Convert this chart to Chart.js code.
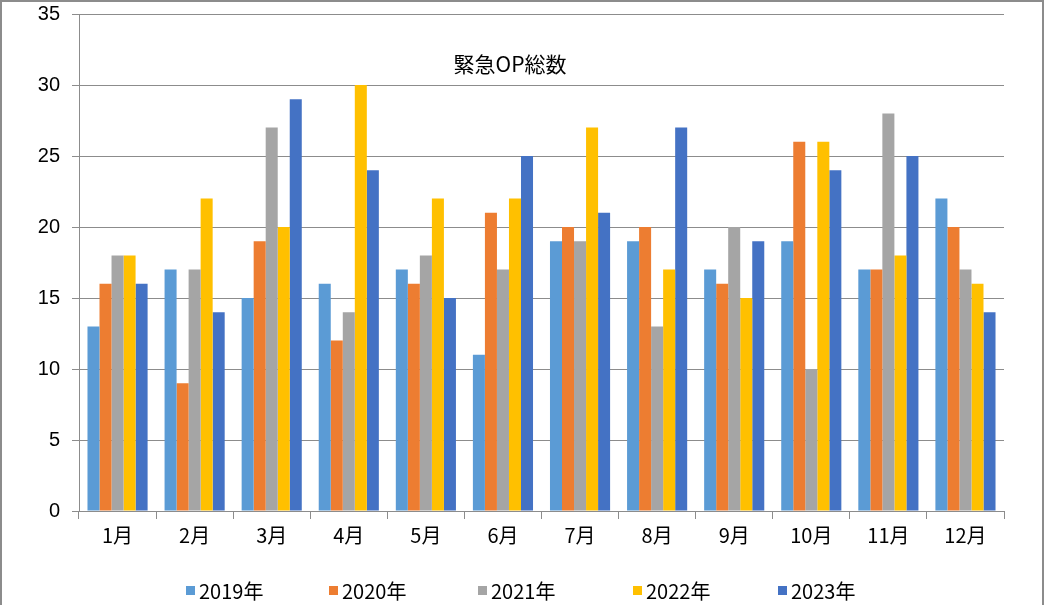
<!DOCTYPE html>
<html>
<head>
<meta charset="utf-8">
<script src="https://cdn.jsdelivr.net/npm/chart.js@4/dist/chart.umd.min.js"></script>
<style>
  html, body { margin: 0; padding: 0; background: #fff; }
  #wrap { width: 1047px; height: 605px; position: relative; }
</style>
</head>
<body>
<div id="wrap"><canvas id="c" width="1047" height="605"></canvas></div>
<script>
const categories = ['1月','2月','3月','4月','5月','6月','7月','8月','9月','10月','11月','12月'];
const seriesNames = ['2019年','2020年','2021年','2022年','2023年'];
const v2019 = [13,17,15,16,17,11,19,19,17,19,17,22];
const v2020 = [16, 9,19,12,16,21,20,20,16,26,17,20];
const v2021 = [18,17,27,14,18,17,19,13,20,10,28,17];
const v2022 = [18,22,20,30,22,22,27,17,15,26,18,16];
const v2023 = [16,14,29,24,15,25,21,27,19,24,25,14];
const yTicks = [0,5,10,15,20,25,30,35];
const chartTitle = '緊急OP総数';

const colors = ['#5B9BD5','#ED7D31','#A5A5A5','#FFC000','#4472C4'];
const seriesValues = [v2019, v2020, v2021, v2022, v2023];

const GOTHIC = '"Noto Sans CJK JP", "Liberation Sans", sans-serif';

const decorPlugin = {
  id: 'decor',
  afterDraw(chart) {
    const ctx = chart.ctx;
    ctx.save();
    // outer border
    ctx.strokeStyle = '#8c8c8c';
    ctx.lineWidth = 2;
    ctx.strokeRect(1, 1, 1042, 610);
    // title inside plot
    ctx.fillStyle = '#000';
    ctx.font = '21px "Noto Sans CJK JP", serif';
    ctx.textAlign = 'center';
    ctx.textBaseline = 'middle';
    ctx.fillText(chartTitle, 510, 64);
    // legend
    ctx.font = '20px ' + GOTHIC;
    ctx.textAlign = 'left';
    const starts = [186, 329, 478, 633, 778];
    chart.data.datasets.forEach((ds, i) => {
      const x = starts[i];
      ctx.fillStyle = ds.backgroundColor;
      ctx.fillRect(x, 586, 9, 9);
      ctx.fillStyle = '#000';
      ctx.fillText(ds.label, x + 13, 591);
    });
    ctx.restore();
  }
};

new Chart(document.getElementById('c'), {
  type: 'bar',
  data: {
    labels: categories,
    datasets: seriesNames.map((n, i) => ({
      label: n,
      data: seriesValues[i],
      backgroundColor: colors[i],
      borderWidth: 0,
      categoryPercentage: 0.78,
      barPercentage: 1.0
    }))
  },
  options: {
    responsive: false,
    animation: false,
    devicePixelRatio: 1,
    layout: { padding: { left: 0, right: 43, top: 14, bottom: 0 } },
    plugins: {
      legend: { display: false },
      title: { display: false },
      tooltip: { enabled: false }
    },
    scales: {
      x: {
        grid: {
          display: true,
          offset: true,
          drawOnChartArea: false,
          drawTicks: true,
          tickLength: 8,
          color: '#8c8c8c'
        },
        border: { display: true, color: '#8c8c8c', width: 1 },
        ticks: {
          color: '#000',
          font: { family: GOTHIC, size: 20 },
          padding: 4,
          maxRotation: 0
        },
        afterFit(s) { s.height = 94; s.paddingLeft = 0; s.paddingRight = 0; }
      },
      y: {
        min: 0,
        max: 35,
        afterBuildTicks(s) { s.ticks = yTicks.map(v => ({ value: v })); },
        grid: {
          color: '#8c8c8c',
          drawTicks: true,
          tickLength: 7
        },
        border: { display: true, color: '#8c8c8c', width: 1 },
        ticks: {
          color: '#000',
          font: { family: '"Liberation Sans", Arial, sans-serif', size: 20 },
          padding: 12
        },
        afterFit(s) { s.width = 79; s.paddingTop = 0; s.paddingBottom = 0; }
      }
    }
  },
  plugins: [decorPlugin]
});
</script>
</body>
</html>
